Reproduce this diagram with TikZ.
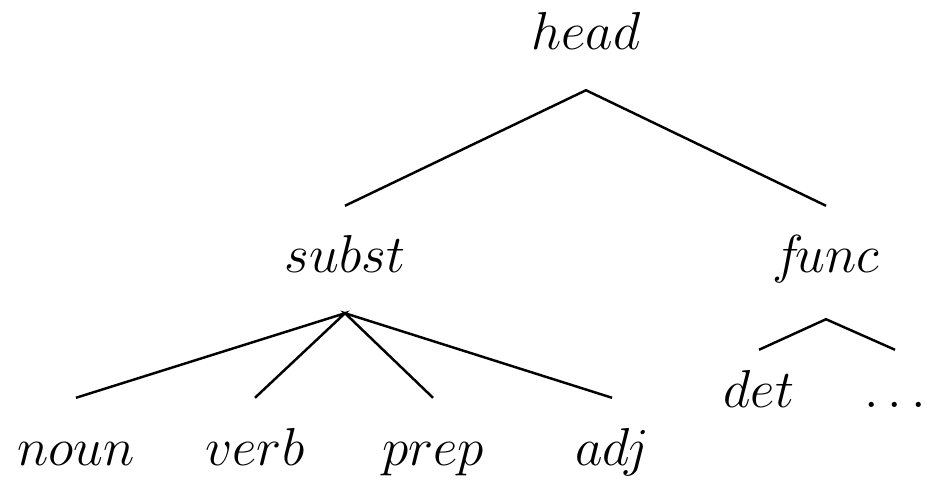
\RequirePackage{fix-cm}
\documentclass[tikz,border=0pt]{standalone}
\usepackage{amsmath}
\usepackage{amssymb}
\usepackage{tikz}
\usetikzlibrary{positioning, calc}

\begin{document}
\begin{tikzpicture}[line width=0.7pt,
		cat/.style={anchor=base, inner sep=0pt, text height=0.66cm, text depth=0.39cm, font=\fontsize{15.2}{18}\selectfont},
		deep/.style={cat, text depth=0.45cm},
		flat/.style={cat, text height=0.56cm}]
			\useasboundingbox (0, 0) rectangle (9.3, 4.82);
			\node[cat]  (head)   at (5.86, 4.32)  {$head$};
			\node[cat]  (subst)  at (3.45, 2.09)  {$subst$};
			\node[deep] (func)   at (8.26, 2.09)  {$f\mkern-3mu unc$};
			\node[cat]  (noun)   at (0.76, 0.17)  {$noun$};
			\node[cat]  (verb)   at (2.55, 0.17)  {$verb$};
			\node[cat]  (prep)   at (4.33, 0.17)  {$prep$};
			\node[cat]  (adj)    at (6.12, 0.17)  {$adj$};
			\node[flat] (det)    at (7.59, 0.75)  {$det$};
			\node[flat] (dots)   at (8.95, 0.75)  {$\ldots$};
			
			\draw (subst.north) -- (head.south) -- (func.north);
			\draw (noun.north) -- (subst.south) -- (verb.north);
			\draw (prep.north) -- (subst.south) -- (adj.north);
			\draw (det.north) -- (func.south) -- (dots.north);
		\end{tikzpicture}
\end{document}
